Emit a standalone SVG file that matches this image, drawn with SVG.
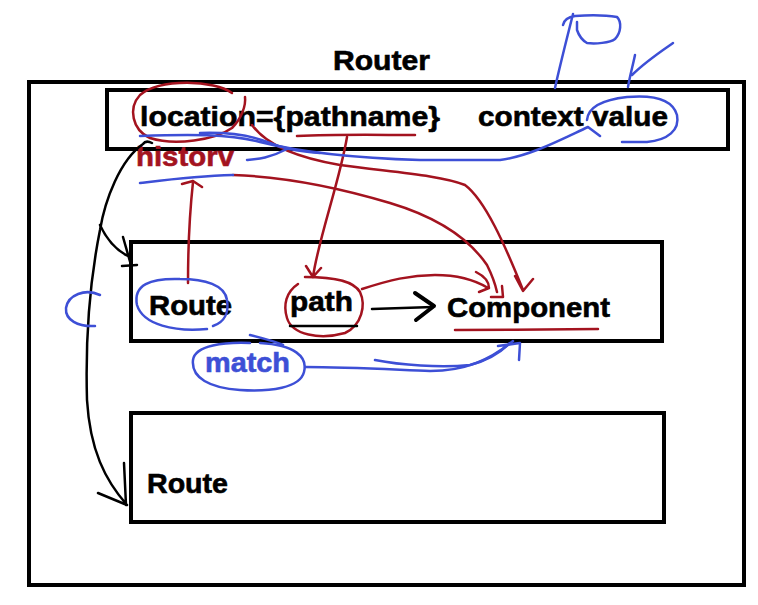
<svg xmlns="http://www.w3.org/2000/svg" width="758" height="605" viewBox="0 0 758 605">
<style>
.box{fill:none;stroke:#000;stroke-width:4}
.t{font-family:"Liberation Sans",Arial,sans-serif;font-weight:bold;font-size:28px;fill:#000;stroke:#000;stroke-width:0.6}
.red{stroke:#a3131f;fill:none;stroke-width:2.5;stroke-linecap:round;stroke-linejoin:round}
.blue{stroke:#3d4fd6;fill:none;stroke-width:2.5;stroke-linecap:round;stroke-linejoin:round}
.blk{stroke:#000;fill:none;stroke-width:2.5;stroke-linecap:round;stroke-linejoin:round}
</style>
<rect width="758" height="605" fill="#fff"/>
<g id="router">
<rect class="box" x="29" y="82" width="715" height="503"/>
<text class="t" x="333" y="70" textLength="97" lengthAdjust="spacingAndGlyphs">Router</text>
</g>
<g id="context">
<rect class="box" x="107" y="90" width="621" height="59"/>
<text class="t" x="140" y="126" textLength="300" lengthAdjust="spacingAndGlyphs">location={pathname}</text>
<text class="t" x="478" y="126" textLength="190" lengthAdjust="spacingAndGlyphs">context value</text>
<text class="t" x="136" y="166" textLength="98" lengthAdjust="spacingAndGlyphs" style="fill:#a3131f;stroke:#a3131f">historv</text>
</g>
<g id="route1">
<rect class="box" x="131" y="242" width="531" height="99"/>
<text class="t" x="149" y="315" textLength="83" lengthAdjust="spacingAndGlyphs">Route</text>
<text class="t" x="290" y="311" textLength="63" lengthAdjust="spacingAndGlyphs">path</text>
<text class="t" x="447" y="317" textLength="163" lengthAdjust="spacingAndGlyphs">Component</text>
<text class="t" x="205" y="372" textLength="85" lengthAdjust="spacingAndGlyphs" style="fill:#3d4fd6;stroke:#3d4fd6">match</text>
</g>
<g id="route2">
<rect class="box" x="131" y="413" width="533" height="109"/>
<text class="t" x="147" y="493" textLength="81" lengthAdjust="spacingAndGlyphs">Route</text>
</g>
<g id="connectors">
<!-- red -->
<path class="red" d="M232,93 C215,80 160,78 140,95 C128,108 132,130 150,138 C175,146 215,140 232,128 C242,118 246,105 245,97"/>
<path class="red" d="M297,136 C340,134 380,135 415,135"/>
<path class="red" d="M347,137 C340,180 318,240 313,277 M306,266 L313,277 L321,268"/>
<path class="red" d="M252,125 C270,150 310,160 340,165 C390,172 440,175 465,185 C485,200 505,245 523,290 M515,276 L523,291 L533,279"/>
<path class="red" d="M233,175 C290,177 340,188 390,203 C440,218 470,240 487,265 C492,275 495,283 497,292 M491,297 L503,297 L502,286"/>
<path class="red" d="M362,289 C390,280 410,275 435,275 C460,275 475,280 488,288 M476,272 C484,276 489,281 489,288 L479,292"/>
<path class="red" d="M298,284 C286,292 283,305 287,318 C292,335 320,340 345,333 C362,325 366,305 360,292 C354,282 338,277 305,277"/>
<path class="red" d="M188,283 C188,250 190,210 193,182 M182,184 L193,181 L202,187"/>
<path class="red" d="M455,330 C500,330 560,329 598,329"/>
<!-- black -->
<path class="blk" d="M290,326 L357,326"/>
<path class="blk" d="M372,309 L433,307"/>
<path class="blk" style="stroke-width:4" d="M415,293 L434,306 L416,320"/>
<path class="blk" d="M152,143 C148,141 145,141 143,144 C120,160 105,200 100,230 C92,270 85,330 87,400 C90,450 105,480 127,505 M124,463 L126,505 M98,493 L127,505"/>
<path class="blk" d="M100,225 C106,238 116,250 128,256 M123,237 L131,265 M122,266 L137,265"/>
<!-- blue -->
<path class="blue" d="M140,136 C190,134 230,134 260,142 C300,152 350,158 420,160 L500,160 C530,156 560,140 588,127 L600,136"/>
<path class="blue" d="M200,133 C230,132 252,136 267,142 C282,148 295,151 320,153"/>
<path class="blue" d="M247,160 C258,159 270,158 287,149"/>
<path class="blue" d="M140,183 C165,180 195,176 233,175"/>
<path class="blue" d="M555,88 C560,65 567,38 573,14 M563,25 C564,20 568,17 575,16 C590,15 605,15 617,17 C622,22 621,33 615,39 C610,43 595,44 587,43 C582,40 579,36 577,30 L577,22"/>
<path class="blue" d="M628,87 C630,75 633,65 635,55 M632,75 C645,62 660,52 673,43"/>
<path class="blue" d="M587,120 C588,108 600,100 627,97 C650,95 672,97 677,115 C680,130 668,140 647,142 L622,142"/>
<path class="blue" d="M207,329 C175,332 143,325 137,305 C133,285 150,278 180,279 C205,279 225,285 227,300 C229,312 225,322 213,326"/>
<path class="blue" d="M250,343 C225,342 195,345 193,360 C191,378 210,388 240,390 C270,392 300,388 304,372 C308,357 295,345 260,343"/>
<path class="blue" d="M250,335 C262,338 274,341 283,345"/>
<path class="blue" d="M305,367 C350,367 400,370 430,371 C465,371 490,360 513,341"/>
<path class="blue" d="M375,360 C400,365 440,368 470,365 C490,360 503,350 510,343 M498,346 L520,343 L519,360"/>
<path class="blue" d="M100,295 C85,288 68,295 66,308 C65,320 78,327 95,326"/>
</g>
</svg>
